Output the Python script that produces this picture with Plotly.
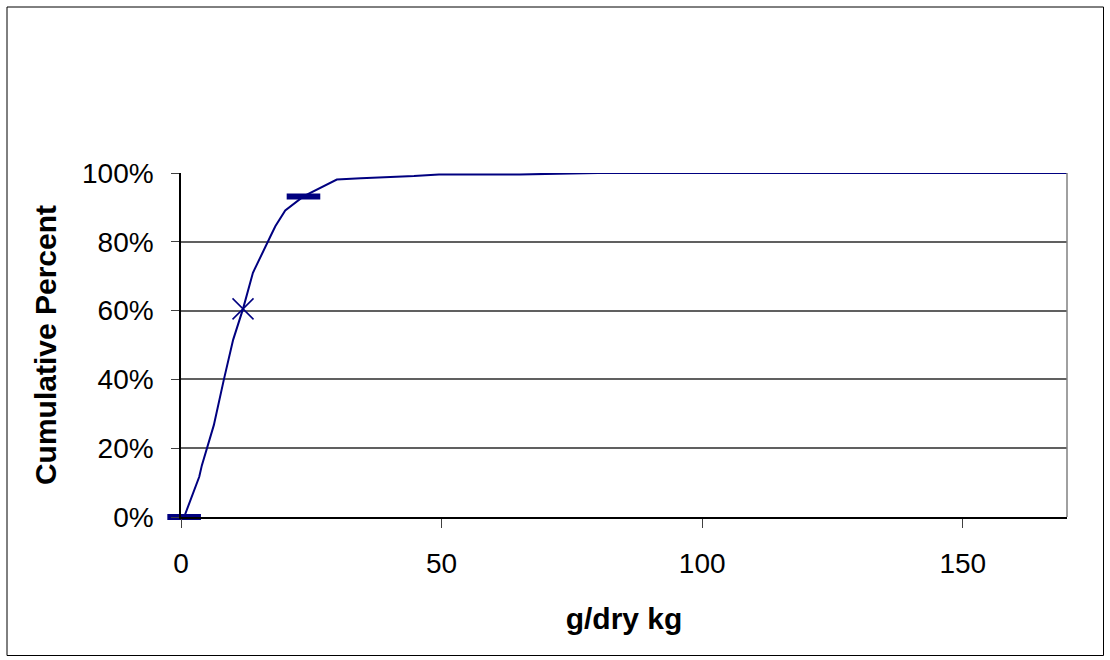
import plotly.graph_objects as go

# cumulative distribution (g/dry kg vs cumulative percent)
conc = [0.6, 3.5, 4.0, 6.3, 8.2, 10.0, 11.9, 13.8, 17.1, 18.1, 20.0, 23.5,
        29.9, 34.5, 44.7, 49.5, 65.0, 80.0, 170.0]
cum_pct = [0, 11.7, 15.0, 26.7, 39.8, 51.5, 60.5, 71.0, 81.4, 84.5, 89.1, 93.2,
           98.1, 98.5, 99.1, 99.6, 99.6, 100, 100]

# highlighted points
dash_x = [0.6, 23.5]
dash_y = [0, 93.2]
cross_x = [11.9]
cross_y = [60.5]

x_ticks = [0, 50, 100, 150]
y_ticks = [0, 20, 40, 60, 80, 100]
y_labels = [f"{v}%" for v in y_ticks]

NAVY = "#000080"
FONT = "Liberation Sans, Arial, sans-serif"

fig = go.Figure()

fig.add_trace(go.Scatter(x=conc, y=cum_pct, mode="lines",
                         line=dict(color=NAVY, width=2), showlegend=False))
fig.add_trace(go.Scatter(x=dash_x, y=dash_y, mode="markers", cliponaxis=False,
                         marker=dict(symbol="line-ew", size=24,
                                     line=dict(color=NAVY, width=6)),
                         showlegend=False))
fig.add_trace(go.Scatter(x=cross_x, y=cross_y, mode="markers", cliponaxis=False,
                         marker=dict(symbol="x-thin", size=21,
                                     line=dict(color=NAVY, width=1.5)),
                         showlegend=False))

# plot area in pixels
L, R, T, B = 181, 1067, 173, 517
W, H = R - L, B - T

def px_x(p):
    return (p - L) / W

def px_y(p):
    return (B - p) / H

# outer chart frame
fig.add_shape(type="rect", xref="paper", yref="paper",
              x0=px_x(7), x1=px_x(1103.5), y0=px_y(655.5), y1=px_y(7),
              line=dict(color="black", width=1), layer="below")
# right edge of plot area
fig.add_shape(type="line", xref="paper", yref="paper",
              x0=1, x1=1, y0=0, y1=1, line=dict(color="#808080", width=1.5))

fig.update_xaxes(range=[0, 170], tickvals=x_ticks, showgrid=False, zeroline=False,
                 showline=True, linecolor="black", linewidth=1.5,
                 ticks="outside", ticklen=9, tickcolor="#404040",
                 ticklabelstandoff=12,
                 tickfont=dict(family=FONT, size=28, color="black"),
                 title=dict(text="<b>g/dry kg</b>", standoff=30,
                            font=dict(family=FONT, size=30, color="black")))
fig.update_yaxes(range=[0, 100], tickvals=y_ticks, ticktext=y_labels,
                 showgrid=True, gridcolor="#606060", gridwidth=1.5, zeroline=False,
                 showline=True, linecolor="black", linewidth=1.5,
                 ticks="outside", ticklen=8, tickcolor="#404040",
                 ticklabelstandoff=12,
                 tickfont=dict(family=FONT, size=28, color="black"),
                 title=dict(text="<b>Cumulative Percent</b>", standoff=17,
                            font=dict(family=FONT, size=30, color="black")))

fig.update_layout(
    width=1110, height=660,
    margin=dict(l=L, r=1110 - R, t=T, b=660 - B),
    plot_bgcolor="white", paper_bgcolor="white",
    font=dict(family=FONT),
)

fig.write_html("out.html", config={"displayModeBar": False},
               post_script="document.body.style.margin='0';")
